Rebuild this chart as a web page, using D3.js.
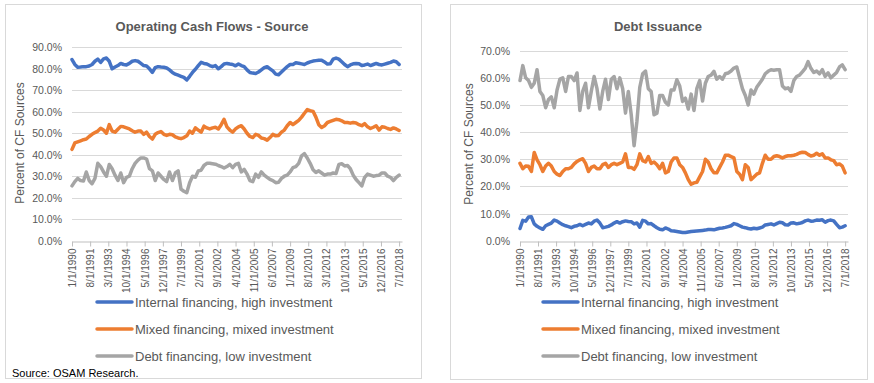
<!DOCTYPE html>
<html>
<head>
<meta charset="utf-8">
<script src="https://cdn.jsdelivr.net/npm/d3@7"></script>
<style>
  body { margin: 0; background: #fff; }
  svg { display: block; font-family: "Liberation Sans", Arial, sans-serif; }
</style>
</head>
<body>
<svg id="chart" width="874" height="383"></svg>
<script>
// quarterly readings, first one is 1/1/1990
const startDate = new Date(1990, 0, 1);
const endDate = new Date(2018, 9, 1);

const seriesNames = ['Internal financing, high investment', 'Mixed financing, mixed investment', 'Debt financing, low investment'];
const seriesColors = ['#4472C4', '#ED7D31', '#A5A5A5'];

const tickLabels = ['1/1/1990', '8/1/1991', '3/1/1993', '10/1/1994', '5/1/1996', '12/1/1997', '7/1/1999',
  '2/1/2001', '9/1/2002', '4/1/2004', '11/1/2005', '6/1/2007', '1/1/2009', '8/1/2010', '3/1/2012',
  '10/1/2013', '5/1/2015', '12/1/2016', '7/1/2018'];

// Operating Cash Flows - Source
const opInternal = [84.3, 82, 80.7, 80.8, 81, 81, 81.3, 82, 83.5, 84.5, 83, 84.6, 85, 83.5, 80, 80.8, 81.5, 82.5, 82, 81.8,
  82.5, 83.5, 83.8, 83.5, 82.5, 81.5, 81.3, 80, 78.3, 80.5, 81, 80.8, 80.7, 80.4, 79.5, 78.3, 77.5, 77, 76.5,
  76, 74.8, 76.5, 78.3, 79.8, 81.5, 83, 82.5, 82.2, 81.5, 81, 81.5, 80, 81, 82.2, 82.5, 82.2, 82, 81.4, 82.2,
  81.5, 81, 79.5, 78.3, 78, 77.8, 78.5, 79.5, 80.5, 81, 80, 79, 77.5, 77.2, 78.5, 79.8, 81, 82,
  82, 82.8, 82.6, 82.3, 82, 82.7, 83.2, 83.6, 83.8, 84, 84, 83.2, 82.2, 82.3, 84.5, 85, 84.5, 83.3, 82, 81,
  81.8, 82.3, 82.5, 82.3, 81.5, 81.8, 82.2, 81.5, 82, 82.5, 82, 81.8, 82.2, 82.6, 83, 83.6, 83.3, 82];
const opMixed = [42.5, 45.5, 46, 46.5, 47, 47.3, 48.5, 49.5, 50.3, 51, 52.3, 51.5, 50, 54, 51, 50.5, 51.9, 53.2, 53, 52.5,
  52, 51.2, 50.5, 51, 51, 49.5, 50.5, 48.5, 47.3, 49.5, 50.3, 50.8, 49.5, 49, 49.5, 49.3, 48.3, 47.8, 47.5,
  48, 48.8, 51, 50, 52.5, 51.5, 50.5, 53.3, 52.5, 52, 52.5, 52.8, 52, 54, 56.5, 53, 51.5, 50.5, 52, 53,
  53.5, 52, 50, 48.5, 48, 49.5, 49, 47.8, 47.5, 46.8, 48, 49.5, 48.8, 49, 50.5, 51.5, 53.5, 55,
  54, 55, 56, 57.5, 59.3, 61, 60.5, 60.2, 57.5, 54, 52.7, 53.5, 55, 55.5, 56, 56.5, 56.3, 55.8, 55, 55,
  54.7, 55, 54.8, 54, 53.5, 54.5, 53, 52.2, 52.8, 53.5, 51.5, 53, 52.8, 52.2, 51.8, 52.5, 52, 51.3];
const opDebt = [25.5, 27.5, 29, 28, 27.8, 32, 28, 26.5, 29, 36, 34.5, 32, 30, 35.5, 33.5, 30.5, 28, 31.5, 27, 29.5,
  30, 33.5, 36, 37.5, 38.5, 38.5, 38, 33.5, 32.5, 28, 31.5, 30, 28.5, 27.5, 32, 28, 31.5, 32.5, 24,
  23, 22.3, 27, 30, 29.5, 32.5, 32.8, 35, 36, 36, 35.8, 35.6, 35, 34.5, 33.8, 34.5, 35.5, 34, 35.5, 36,
  32, 33.2, 31, 28, 27.5, 31, 29.5, 32, 30.5, 29.5, 28.5, 28, 27, 27.2, 29, 30, 30.5, 32,
  34, 34.5, 36, 39.5, 40.5, 38.5, 36, 33, 31.8, 32.5, 31.5, 30.5, 31, 31, 31.5, 31.3, 35.5, 35.8, 34.8, 35,
  33.5, 30.5, 28.5, 27, 25.5, 29.5, 31, 30.5, 30, 30.3, 30.5, 31.5, 31.5, 30, 29.5, 28, 29.5, 30.5];

// Debt Issuance
const diInternal = [4.5, 7.5, 7.2, 8.7, 8.8, 6.2, 5.3, 4.7, 4.2, 5.5, 6, 6.5, 7.6, 7.2, 6.5, 5.9, 5.5, 5.2, 4.8, 5.3,
  5.5, 6, 5.5, 6, 6.5, 6.2, 7.2, 7.6, 6.5, 4.8, 5, 5.3, 5.8, 6.5, 7, 6.5, 7, 7.3, 7.1,
  7, 6.2, 6.5, 5, 7.5, 7.2, 6.2, 6.3, 5.5, 4.8, 4.2, 4, 4.7, 4.3, 3.7, 3.6, 3.4, 3.2, 3, 3,
  3.2, 3.4, 3.5, 3.6, 3.7, 3.8, 3.9, 4.1, 4.1, 4, 4.3, 4.6, 4.7, 4.9, 5.2, 5.5, 6.3, 6,
  5.5, 5, 4.8, 4.5, 4.3, 4.6, 4.4, 4.7, 5, 5.8, 6, 6.2, 5.8, 6.3, 6.8, 6.6, 5.9, 5.8, 6.5, 6.6,
  6.2, 6.4, 6.7, 7.3, 7.6, 7.2, 7.3, 7.6, 7.5, 7.7, 6.8, 7.4, 7.6, 7.3, 6, 4.8, 5, 5.5];
const diMixed = [28.5, 26.5, 27.5, 27.4, 25.5, 32.5, 29.8, 28, 25.5, 27.5, 28.5, 27.5, 25.5, 24.5, 24, 25.5, 26.5, 26.5, 27, 28.3,
  29.2, 29.8, 30.2, 28.5, 25.5, 27, 27.5, 26.5, 26.5, 28, 28.5, 27, 28, 28.5, 28, 28.5, 29, 32, 27,
  27, 26.3, 28, 32, 29.5, 29, 31, 28.5, 29, 28, 26.5, 28.5, 25, 25.5, 29, 30.5, 30.5, 28, 27, 25,
  22.5, 20.8, 21.3, 21.5, 23.5, 25.5, 30, 29, 26.5, 25, 25, 27, 29, 31.5, 31.5, 31, 30.5, 25.5,
  24.5, 22.5, 28, 27, 22.5, 23.5, 24.5, 25, 28.5, 31.5, 30, 30, 31, 31.3, 31, 30.5, 31, 31.3, 31.3, 31.5,
  31.8, 32.3, 32.6, 32.5, 31.8, 31.2, 31.5, 32.2, 31.5, 32, 30.5, 30.5, 29.8, 29.5, 28, 28.3, 27.5, 25];
const diDebt = [59, 64.5, 60, 59, 56.5, 58, 63, 55, 53.5, 49, 52, 53, 49, 55.5, 59.5, 60, 55, 60.5, 60.5, 59,
  61.8, 48, 55, 58, 49, 55, 60.5, 56, 48.5, 55, 59.5, 52, 59.5, 60.5, 56, 60, 56, 47, 55,
  46.5, 35, 44, 56.5, 61.5, 62.5, 56, 55, 46.4, 47, 53.5, 53.5, 51, 50, 55.5, 55.5, 59.3, 57, 51.3, 52.5,
  48.5, 54, 48, 56, 59, 51.5, 58, 60.5, 61, 62.4, 59.5, 60.5, 59.5, 61.5, 61.8, 62.5, 63.6, 64,
  60, 56, 53.5, 50, 55.5, 54, 56.5, 58, 59.5, 61.5, 62.4, 63, 62.8, 63, 63, 57, 56, 56.3, 55, 59,
  60.5, 61, 62.2, 63.5, 66, 63.5, 62, 62.5, 61.5, 63, 60.5, 61.8, 60, 61, 62, 64, 64.8, 63];

const quarters = d3.timeMonth.every(3).range(startDate, d3.timeMonth.offset(startDate, 3 * opInternal.length));
const parseLabel = d3.timeParse('%m/%d/%Y');

const svg = d3.select('#chart');
const textGray = '#595959';

function panel(opts) {
  const g = svg.append('g');

  g.append('rect')
    .attr('x', opts.box[0] + 0.5).attr('y', opts.box[1] + 0.5)
    .attr('width', opts.box[2]).attr('height', opts.box[3])
    .attr('fill', '#fff').attr('stroke', '#d9d9d9');

  const x = d3.scaleTime().domain([startDate, endDate]).range(opts.xRange);
  const y = d3.scaleLinear().domain([0, opts.yMax]).range(opts.yRange);

  // gridlines + y labels
  const yTicks = d3.range(0, opts.yMax + 1, 10);
  g.append('g').selectAll('line')
    .data(yTicks.filter(d => d > 0))
    .enter().append('line')
      .attr('x1', opts.xRange[0]).attr('x2', opts.xRange[1])
      .attr('y1', d => Math.round(y(d)) + 0.5).attr('y2', d => Math.round(y(d)) + 0.5)
      .attr('stroke', '#d9d9d9');

  g.append('g').selectAll('text')
    .data(yTicks)
    .enter().append('text')
      .attr('x', opts.xRange[0] - 10)
      .attr('y', d => y(d) + 4)
      .attr('text-anchor', 'end')
      .attr('font-size', '10.5px')
      .attr('fill', textGray)
      .text(d => d3.format('.1f')(d) + '%');

  // x axis
  const xAxis = d3.axisBottom(x)
    .tickValues(tickLabels.map(parseLabel))
    .tickFormat(d3.timeFormat('%-m/%-d/%Y'))
    .tickSize(5)
    .tickSizeOuter(0);

  const ax = g.append('g')
    .attr('transform', `translate(0,${Math.round(opts.yRange[0]) + 0.5})`)
    .call(xAxis);
  ax.select('.domain').attr('stroke', '#bfbfbf');
  ax.selectAll('.tick line').attr('stroke', '#bfbfbf');
  ax.selectAll('.tick text')
    .attr('font-family', '"Liberation Sans", Arial, sans-serif')
    .attr('font-size', '10px')
    .attr('fill', textGray)
    .attr('text-anchor', 'end')
    .attr('transform', 'rotate(-90)')
    .attr('x', -7).attr('y', 0).attr('dy', '0.35em');

  // series
  const line = d3.line()
    .x((d, i) => x(quarters[i]))
    .y(d => y(d))
    .curve(d3.curveLinear);

  opts.series.forEach((s, k) => {
    g.append('path')
      .datum(s)
      .attr('d', line)
      .attr('fill', 'none')
      .attr('stroke', seriesColors[k])
      .attr('stroke-width', 3.5)
      .attr('stroke-linejoin', 'round')
      .attr('stroke-linecap', 'round');
  });

  // title
  g.append('text')
    .attr('x', opts.titleX).attr('y', 31)
    .attr('text-anchor', 'middle')
    .attr('font-size', '13px')
    .attr('font-weight', 'bold')
    .attr('fill', textGray)
    .text(opts.title);

  // y axis title
  g.append('text')
    .attr('transform', `translate(${opts.yTitleX},${opts.yTitleY}) rotate(-90)`)
    .attr('text-anchor', 'middle')
    .attr('font-size', '12px')
    .attr('fill', textGray)
    .text('Percent of CF Sources');

  // legend
  const leg = g.append('g').selectAll('g')
    .data(seriesNames)
    .enter().append('g')
      .attr('transform', (d, i) => `translate(${opts.legendX},${302 + i * 27})`);
  leg.append('line')
    .attr('x1', 0).attr('x2', 35)
    .attr('stroke', (d, i) => seriesColors[i])
    .attr('stroke-width', 3.5)
    .attr('stroke-linecap', 'round');
  leg.append('text')
    .attr('x', 38).attr('y', 4.5)
    .attr('font-size', '13px')
    .attr('fill', textGray)
    .text(d => d);
}

panel({
  box: [5, 4, 416, 374],
  xRange: [72, 402],
  yMax: 90,
  yRange: [240.7, 47.3],
  series: [opInternal, opMixed, opDebt],
  title: 'Operating Cash Flows - Source',
  titleX: 212,
  yTitleX: 24, yTitleY: 143,
  legendX: 97
});

panel({
  box: [450, 4, 417, 375],
  xRange: [520, 848],
  yMax: 70,
  yRange: [240.7, 50.7],
  series: [diInternal, diMixed, diDebt],
  title: 'Debt Issuance',
  titleX: 658,
  yTitleX: 473, yTitleY: 144,
  legendX: 543
});

svg.append('text')
  .attr('x', 12).attr('y', 377)
  .attr('font-size', '11px')
  .attr('fill', '#000')
  .text('Source: OSAM Research.');
</script>
</body>
</html>
